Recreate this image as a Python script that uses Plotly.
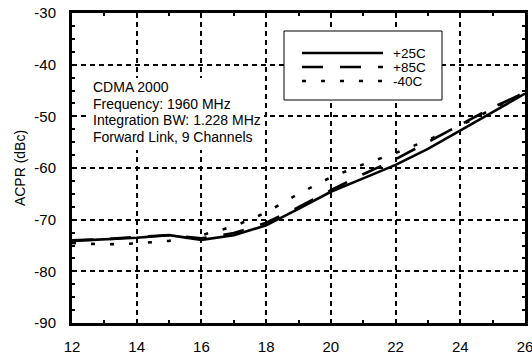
import plotly.graph_objects as go

# Data
x_vals = [12, 13, 14, 15, 16, 17, 18, 19, 20, 21, 22, 23, 24, 25, 26]
acpr_25c = [-74.1, -73.8, -73.5, -73.0, -73.9, -73.0, -71.1, -67.9, -64.6, -62.0, -59.4, -56.3, -52.8, -49.2, -45.6]
acpr_85c = [-74.0, -73.8, -73.3, -73.0, -73.6, -72.6, -70.6, -67.6, -64.3, -61.2, -58.3, -55.0, -51.6, -48.3, -45.4]
acpr_m40c = [-74.5, -74.8, -74.6, -74.1, -73.0, -71.3, -68.6, -65.0, -61.8, -59.3, -57.1, -54.6, -51.8, -48.5, -45.3]
series_names = ["+25C", "+85C", "-40C"]
x_ticks = [12, 14, 16, 18, 20, 22, 24, 26]
y_ticks = [-30, -40, -50, -60, -70, -80, -90]
note_lines = ["CDMA 2000", "Frequency: 1960 MHz", "Integration BW: 1.228 MHz", "Forward Link, 9 Channels"]

FONT = "Liberation Sans, Arial, Helvetica, sans-serif"
dashes = ["solid", "21px,17px", "4px,15px"]
series = [acpr_25c, acpr_85c, acpr_m40c]

fig = go.Figure()
for name, ys, d in zip(series_names, series, dashes):
    fig.add_trace(go.Scatter(x=x_vals, y=ys, mode="lines", name=name, showlegend=False,
                             line=dict(color="black", width=2.6, dash=d)))

axis_common = dict(
    showline=True, linecolor="black", linewidth=3, mirror="allticks",
    showgrid=True, gridcolor="black", gridwidth=1.5, griddash="5px,4px",
    ticks="inside", ticklen=3, tickcolor="black", tickwidth=1.5,
    zeroline=False, automargin=False, ticklabeloverflow="allow",
    tickfont=dict(family=FONT, size=15, color="black"),
)
fig.update_xaxes(range=[12, 26], tickvals=x_ticks, ticktext=[str(v) for v in x_ticks],
                 ticklabelstandoff=8,
                 minor=dict(dtick=1, tick0=12, ticks="inside", ticklen=3, tickcolor="black", showgrid=False),
                 **axis_common)
fig.update_yaxes(range=[-90, -30], tickvals=y_ticks, ticktext=[str(v) for v in y_ticks],
                 ticklabelstandoff=10,
                 minor=dict(dtick=2.5, tick0=-30, ticks="inside", ticklen=3, tickcolor="black", showgrid=False),
                 title=dict(text="ACPR (dBc)", font=dict(family=FONT, size=14, color="black"), standoff=6),
                 **axis_common)

# Custom legend box and note box (paper coords; page pixel targets)
W, H, L, T = 453.0, 310.0, 72.0, 13.0
def px(x):
    return (x - L) / W
def py(y):
    return 1 - (y - T) / H

shapes = [
    dict(type="rect", xref="paper", yref="paper", x0=px(86), x1=px(264), y0=py(150), y1=py(78),
         line=dict(width=0), fillcolor="white", layer="above"),
    dict(type="rect", xref="paper", yref="paper", x0=px(284), x1=px(442), y0=py(100), y1=py(31),
         line=dict(color="black", width=1), fillcolor="white", layer="above"),
]
annotations = []
for i, (name, d) in enumerate(zip(series_names, dashes)):
    yy = 53 + i * 14
    shapes.append(dict(type="line", xref="paper", yref="paper", x0=px(302), x1=px(383), y0=py(yy), y1=py(yy),
                       line=dict(color="black", width=2.6, dash=d), layer="above"))
    annotations.append(dict(xref="paper", yref="paper", x=px(391), y=py(yy), text=name, showarrow=False,
                            xanchor="left", yanchor="middle", font=dict(family=FONT, size=13.5, color="black")))

for i, line in enumerate(note_lines):
    annotations.append(dict(xref="paper", yref="paper", x=px(91), y=py(87 + i * 16.7), text=line, showarrow=False,
                            xanchor="left", yanchor="middle", font=dict(family=FONT, size=14, color="black")))

fig.update_layout(
    width=532, height=356,
    margin=dict(l=72, r=7, t=13, b=33),
    paper_bgcolor="white", plot_bgcolor="white",
    shapes=shapes, annotations=annotations,
    showlegend=False,
)
# remove the browser's default 8px body margin so the figure fills the window exactly
fig.write_html("out.html",
               config={"displayModeBar": False},
               post_script="document.body.style.margin='0px';document.body.style.overflow='hidden';")
